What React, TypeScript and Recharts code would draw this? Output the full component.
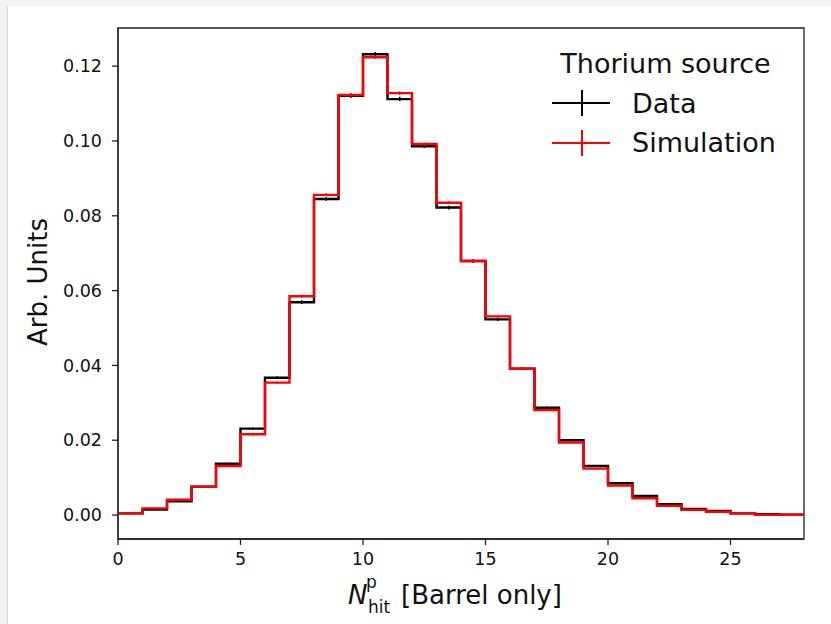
import React from "react";
import {
  ComposedChart,
  Line,
  Scatter,
  ErrorBar,
  XAxis,
  YAxis,
  ReferenceArea,
} from "recharts";

// Bin lower edges (bin width 1)
const binStarts = [0, 1, 2, 3, 4, 5, 6, 7, 8, 9, 10, 11, 12, 13, 14, 15, 16, 17, 18, 19, 20, 21, 22, 23, 24, 25, 26, 27];
const lastEdge = 28;

const dataValues = [0.0005, 0.0015, 0.0037, 0.0076, 0.0137, 0.0231, 0.0367, 0.0569, 0.0845, 0.1121, 0.1232, 0.1112, 0.0986, 0.0822, 0.0679, 0.0523, 0.0391, 0.0287, 0.0200, 0.0131, 0.0085, 0.0051, 0.0029, 0.0016, 0.0011, 0.0005, 0.0002, 0.0001];
const simValues = [0.0005, 0.0018, 0.0041, 0.0076, 0.0131, 0.0216, 0.0354, 0.0585, 0.0856, 0.1123, 0.1224, 0.1128, 0.0992, 0.0835, 0.0679, 0.0531, 0.0391, 0.0281, 0.0194, 0.0124, 0.0079, 0.0045, 0.0025, 0.0014, 0.0009, 0.0005, 0.0001, 0.0001];
const dataErrors = [0.0001, 0.0001, 0.0002, 0.0002, 0.0003, 0.0003, 0.0004, 0.0005, 0.0005, 0.0006, 0.0006, 0.0006, 0.0005, 0.0005, 0.0005, 0.0004, 0.0004, 0.0003, 0.0003, 0.0002, 0.0002, 0.0002, 0.0001, 0.0001, 0.0001, 0.0001, 0.0001, 0.0001];
const simErrors = [0.0001, 0.0001, 0.0001, 0.0002, 0.0002, 0.0003, 0.0003, 0.0004, 0.0004, 0.0005, 0.0005, 0.0005, 0.0004, 0.0004, 0.0004, 0.0003, 0.0003, 0.0003, 0.0002, 0.0002, 0.0002, 0.0001, 0.0001, 0.0001, 0.0001, 0.0001, 0.0001, 0.0001];

const xTicks = [0, 5, 10, 15, 20, 25];
const yTicks = [0, 0.02, 0.04, 0.06, 0.08, 0.1, 0.12];
const xDomain = [0, 28];
const yDomain = [-0.0064, 0.1302];

const seriesNames = ["Data", "Simulation"];
const legendTitle = "Thorium source";
const yLabel = "Arb. Units";

const stepData = [
  ...binStarts.map((x, i) => ({ x, data: dataValues[i], sim: simValues[i] })),
  { x: lastEdge, data: dataValues[dataValues.length - 1], sim: simValues[simValues.length - 1] },
];
const dataPoints = binStarts.map((x, i) => ({ x: x + 0.5, y: dataValues[i], err: dataErrors[i] }));
const simPoints = binStarts.map((x, i) => ({ x: x + 0.5, y: simValues[i], err: simErrors[i] }));

const FONT = "'DejaVu Sans', sans-serif";
const AXIS = "#222";

const noShape = () => <g />;

export default function App() {
  return (
    <div
      style={{
        position: "fixed",
        left: 0,
        top: 0,
        width: 831,
        height: 624,
        background: "#f3f3f3",
        fontFamily: FONT,
      }}
    >
      <div
        style={{
          position: "absolute",
          left: 7,
          top: 6,
          width: 824,
          height: 618,
          background: "#fff",
          borderLeft: "1px solid #d8d8d8",
          boxSizing: "border-box",
        }}
      >
        <div style={{ position: "absolute", left: 1, top: 0 }}>
          <ComposedChart
            width={823}
            height={618}
            data={stepData}
            margin={{ top: 22, right: 28, bottom: 45, left: 49 }}
          >
            <XAxis
              dataKey="x"
              type="number"
              domain={xDomain}
              ticks={xTicks}
              allowDataOverflow
              height={40}
              tickSize={6}
              tickMargin={8}
              stroke={AXIS}
              axisLine={{ stroke: AXIS, strokeWidth: 1.3 }}
              tickLine={{ stroke: AXIS, strokeWidth: 1.3 }}
              tick={{ fill: "#111", fontSize: 17.5, fontFamily: FONT }}
            />
            <YAxis
              type="number"
              domain={yDomain}
              ticks={yTicks}
              allowDataOverflow
              width={60}
              tickSize={6}
              tickMargin={10}
              stroke={AXIS}
              axisLine={{ stroke: AXIS, strokeWidth: 1.3 }}
              tickLine={{ stroke: AXIS, strokeWidth: 1.3 }}
              tickFormatter={(v: number) => v.toFixed(2)}
              tick={{ fill: "#111", fontSize: 17.5, fontFamily: FONT }}
            />
            <Line
              type="stepAfter"
              dataKey="data"
              stroke="#000"
              strokeWidth={2.4}
              dot={false}
              activeDot={false}
              isAnimationActive={false}
            />
            <Scatter data={dataPoints} dataKey="y" shape={noShape} isAnimationActive={false}>
              <ErrorBar dataKey="err" direction="y" width={0} stroke="#000" strokeWidth={1.5} />
            </Scatter>
            <Line
              type="stepAfter"
              dataKey="sim"
              stroke="#ff0000"
              strokeWidth={2.4}
              dot={false}
              activeDot={false}
              isAnimationActive={false}
            />
            <Scatter data={simPoints} dataKey="y" shape={noShape} isAnimationActive={false}>
              <ErrorBar dataKey="err" direction="y" width={0} stroke="#ff0000" strokeWidth={1.5} />
            </Scatter>
            <ReferenceArea
              x1={xDomain[0]}
              x2={xDomain[1]}
              y1={yDomain[0]}
              y2={yDomain[1]}
              fill="none"
              fillOpacity={0}
              stroke={AXIS}
              strokeWidth={1.3}
              ifOverflow="visible"
            />
          </ComposedChart>
        </div>
      </div>
      <svg
        width={831}
        height={624}
        style={{ position: "absolute", left: 0, top: 0, pointerEvents: "none" }}
        fontFamily={FONT}
      >
        {/* Y label */}
        <text
          x={47}
          y={282}
          fontSize={26}
          textAnchor="middle"
          fill="#111"
          transform="rotate(-90, 47, 282)"
        >
          {yLabel}
        </text>
        {/* X label */}
        <text x={348} y={604} fontSize={26} fontStyle="italic" fill="#111">N</text>
        <text x={366} y={588} fontSize={17} fill="#111">p</text>
        <text x={368} y={613} fontSize={17} fill="#111">hit</text>
        <text x={401} y={604} fontSize={26} fill="#111">[Barrel only]</text>
        {/* Legend */}
        <text x={665.5} y={73} fontSize={27} textAnchor="middle" fill="#111">
          {legendTitle}
        </text>
        <line x1={552} x2={610} y1={103} y2={103} stroke="#000" strokeWidth={2} />
        <line x1={582} x2={582} y1={90} y2={116} stroke="#000" strokeWidth={2} />
        <text x={632} y={113} fontSize={27} fill="#111">{seriesNames[0]}</text>
        <line x1={552} x2={610} y1={143} y2={143} stroke="#ff0000" strokeWidth={2} />
        <line x1={582} x2={582} y1={130} y2={156} stroke="#ff0000" strokeWidth={2} />
        <text x={632} y={152} fontSize={27} fill="#111">{seriesNames[1]}</text>
      </svg>
    </div>
  );
}
